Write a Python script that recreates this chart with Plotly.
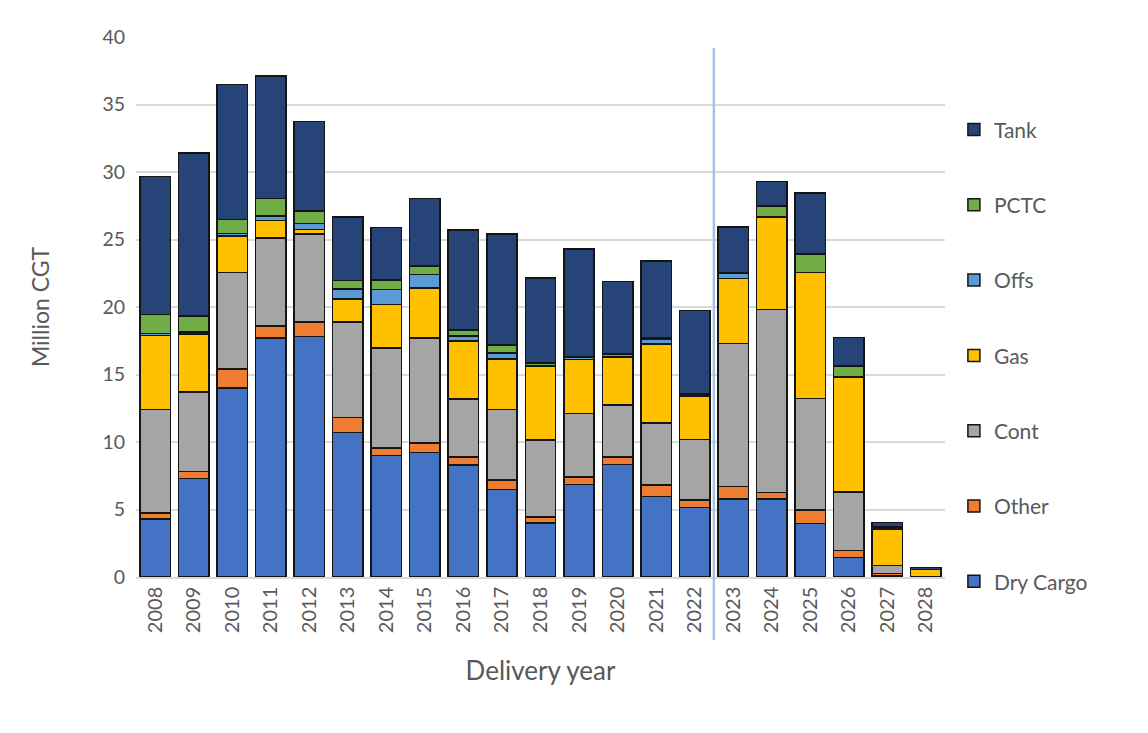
import plotly.graph_objects as go

years = [str(y) for y in range(2008, 2029)]

dry_cargo = [4.3, 7.3, 14.0, 17.7, 17.8, 10.7, 9.0, 9.23, 8.3, 6.5, 4.0, 6.85, 8.35, 5.95, 5.15, 5.77, 5.77, 3.96, 1.44, 0.1, 0]
other = [0.45, 0.5, 1.4, 0.9, 1.1, 1.13, 0.55, 0.7, 0.6, 0.7, 0.45, 0.55, 0.55, 0.85, 0.55, 0.93, 0.5, 1.0, 0.54, 0.15, 0]
cont = [7.65, 5.9, 7.15, 6.5, 6.5, 7.07, 7.4, 7.77, 4.3, 5.2, 5.7, 4.7, 3.85, 4.6, 4.5, 10.6, 13.54, 8.25, 4.33, 0.6, 0.02]
gas = [5.5, 4.3, 2.7, 1.3, 0.35, 1.7, 3.25, 3.7, 4.3, 3.75, 5.45, 4.0, 3.55, 5.85, 3.2, 4.83, 6.83, 9.33, 8.5, 2.67, 0.55]
offs = [0.15, 0.15, 0.2, 0.35, 0.45, 0.74, 1.1, 1.0, 0.35, 0.45, 0.05, 0.2, 0.2, 0.35, 0.15, 0.35, 0.02, 0.02, 0.02, 0.02, 0]
pctc = [1.4, 1.2, 1.05, 1.3, 0.9, 0.64, 0.7, 0.65, 0.45, 0.6, 0.2, 0.05, 0.05, 0.1, 0.05, 0.05, 0.82, 1.37, 0.8, 0.15, 0]
tank = [10.2, 12.05, 10.0, 9.05, 6.65, 4.7, 3.9, 5.0, 7.4, 8.2, 6.3, 7.95, 5.35, 5.7, 6.15, 3.4, 1.83, 4.5, 2.1, 0.35, 0.15]

series = [
    ("Dry Cargo", dry_cargo, "#4472C4"),
    ("Other", other, "#ED7D31"),
    ("Cont", cont, "#A5A5A5"),
    ("Gas", gas, "#FFC000"),
    ("Offs", offs, "#5B9BD5"),
    ("PCTC", pctc, "#70AD47"),
    ("Tank", tank, "#264478"),
]

FONT = "Lato, 'Open Sans', sans-serif"
TXT = "#595959"

fig = go.Figure()
n = len(series)
for i, (name, vals, col) in enumerate(series):
    fig.add_trace(go.Bar(
        x=years, y=vals, name=name, legendgroup=name,
        legendrank=1000 + (n - i),
        marker=dict(color=col, line=dict(color="#151515", width=1.5)),
    ))

fig.add_shape(type="line", xref="x", yref="paper", x0=14.5, x1=14.5,
              y0=-0.117, y1=0.98, line=dict(color="#A9BFE3", width=2.5))

fig.update_layout(
    width=1140, height=725,
    barmode="stack", bargap=0.21,
    plot_bgcolor="white", paper_bgcolor="white",
    margin=dict(l=128, r=203, t=29, b=156),
    font=dict(family=FONT, color=TXT, size=18),
    legend=dict(
        x=1.011, xanchor="left", y=0.866, yanchor="top",
        traceorder="grouped", tracegroupgap=45,
        font=dict(size=21, color=TXT, family=FONT),
        itemwidth=30,
    ),
    xaxis=dict(
        type="category", tickangle=-90,
        showline=True, linecolor="#D9D9D9", linewidth=1.5,
        ticks="", tickfont=dict(size=20, color=TXT),
        title=dict(text="Delivery year", font=dict(size=26, color=TXT), standoff=30),
    ),
    yaxis=dict(
        range=[0, 40], dtick=5, showgrid=True, gridcolor="#D9D9D9", gridwidth=1.5,
        zeroline=False, showline=False, ticks="", ticklabelstandoff=10,
        tickfont=dict(size=19.5, color=TXT),
        title=dict(text="Million CGT", font=dict(size=23, color=TXT), standoff=46),
    ),
)

fig.write_html("out.html")
